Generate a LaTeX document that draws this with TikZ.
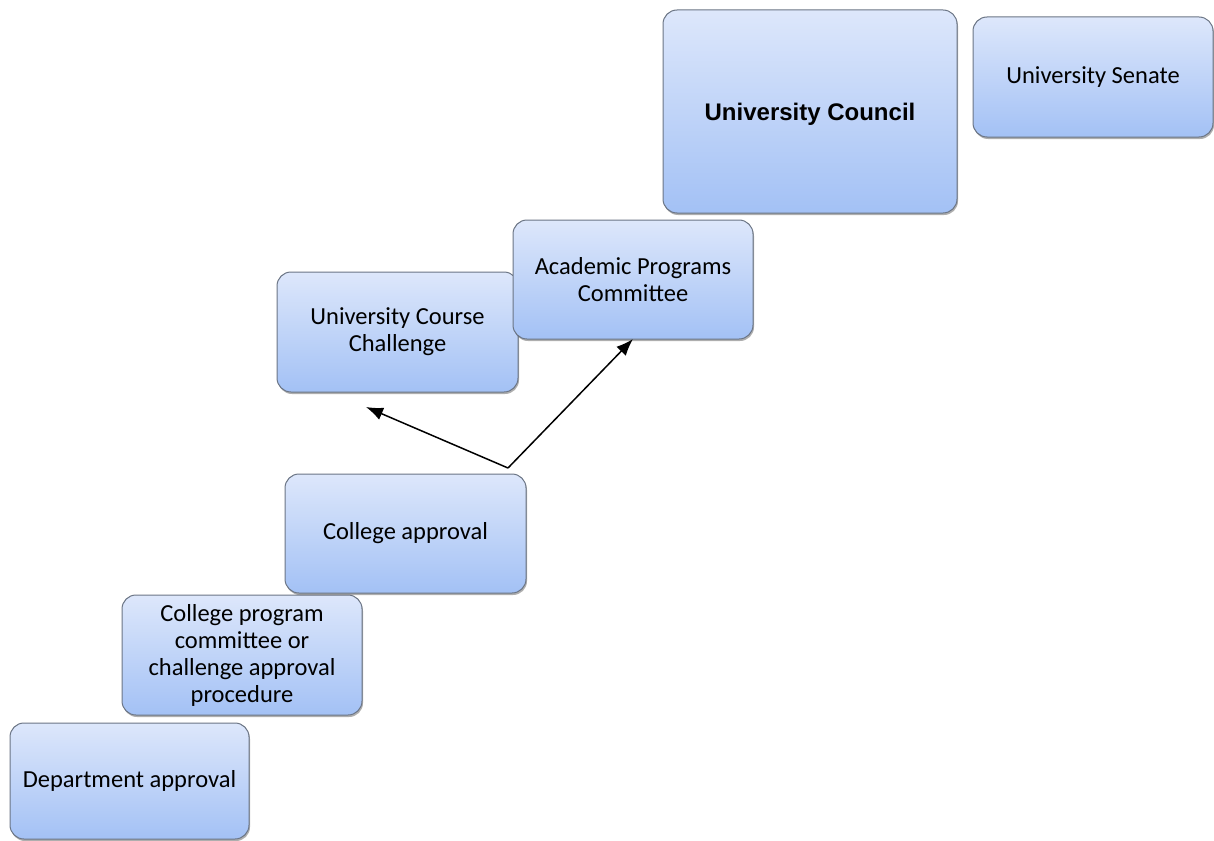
\documentclass[tikz,border=0pt]{standalone}
\usepackage{fontspec}
\setmainfont{Carlito}
\newfontfamily\councilfont{Liberation Sans}
\usetikzlibrary{arrows.meta,shadows}
\definecolor{boxtop}{HTML}{DDE7FB}
\definecolor{boxbot}{HTML}{A3C1F5}
\definecolor{boxline}{HTML}{6B7585}

\begin{document}
\begin{tikzpicture}[x=1pt,y=-1pt]
  \tikzset{> = {Latex[length=17pt,width=13pt]}}
  \tikzset{stage/.style = {draw=boxline, line width=1pt, rounded corners=14pt,
      top color=boxtop, bottom color=boxbot, inner sep=0pt, outer sep=0pt,
      align=center, font=\fontsize{24.5}{27}\selectfont,
      drop shadow={shadow xshift=1pt, shadow yshift=-2pt, opacity=0.45, fill=black!70}}}
  \useasboundingbox (0,0) rectangle (1214,840);
  % the steps, bottom to top
  \node[stage, minimum width=239pt, minimum height=116pt] (dept) at (129.5,781) {Department approval};
  \node[stage, minimum width=240pt, minimum height=120pt] (cprog) at (242,655) {College program\\committee or\\challenge approval\\procedure};
  \node[stage, minimum width=241pt, minimum height=119pt] (capp) at (405.5,533.5) {College approval};
  \node[stage, minimum width=241pt, minimum height=120pt] (ucc) at (397.5,332) {University Course\\Challenge};
  \node[stage, minimum width=240pt, minimum height=119pt] (apc) at (633,279.5) {Academic Programs\\Committee};
  \node[stage, minimum width=294pt, minimum height=203pt, text depth=-6pt,
        font=\councilfont\bfseries\fontsize{24}{27}\selectfont] (council) at (810,111.5) {University Council};
  \node[stage, minimum width=240pt, minimum height=120pt] (senate) at (1093,77) {University Senate};
  % fork
  \coordinate (fork) at (508,468);
  \coordinate (uccend) at (366,407);
  \draw[->, line width=1.5pt] (fork) -- (uccend);
  \draw[->, line width=1.5pt] (fork) -- (apc.south);
\end{tikzpicture}
\end{document}
